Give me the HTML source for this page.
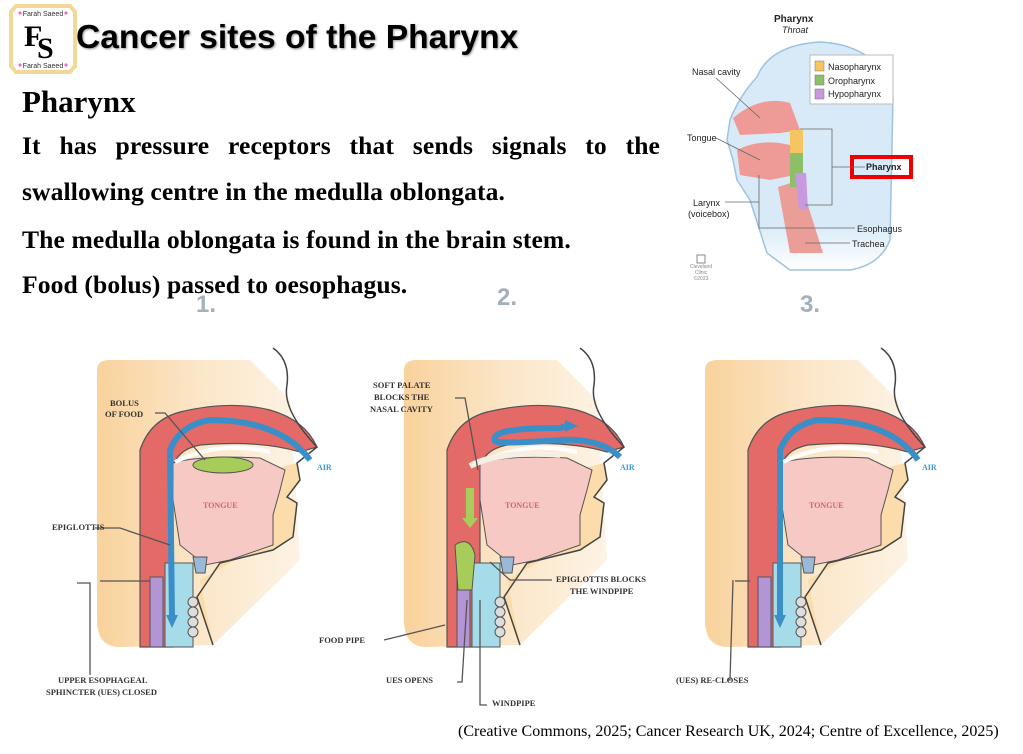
<!DOCTYPE html>
<html><head><meta charset="utf-8"><style>
html,body{margin:0;padding:0;background:#fff;}
body{width:1023px;height:754px;position:relative;overflow:hidden;font-family:"Liberation Serif",serif;}
.t{position:absolute;white-space:nowrap;}
.title{left:76px;top:19px;font-family:"Liberation Sans",sans-serif;font-weight:bold;font-size:33.6px;color:#000;text-shadow:1px 1px 2px #999;}
.h{left:22px;top:84px;font-weight:bold;font-size:31px;}
.p{left:22px;font-weight:bold;font-size:25.6px;letter-spacing:0.1px;}
.j{width:638px;text-align:justify;text-align-last:justify;}
.cit{left:458px;top:723px;font-size:16px;}
</style></head><body>
<svg width="1023" height="754" style="position:absolute;left:0;top:0">
<defs>
<linearGradient id="bg" x1="0" x2="1" y1="0" y2="0">
<stop offset="0" stop-color="#f9d29c"/><stop offset="0.5" stop-color="#fbe6c8"/><stop offset="1" stop-color="#fdf3e4"/></linearGradient>
<linearGradient id="fd" x1="0" x2="0" y1="0" y2="1">
<stop offset="0.8" stop-color="#d8eaf7"/><stop offset="1" stop-color="#fff"/></linearGradient>
<g id="panel">
<path d="M97,370 Q97,360 110,360 L250,360 L290,400 L300,560 L213,645 L120,647 Q97,647 97,620 Z" fill="url(#bg)"/>
<path d="M213,645 L197,597 L220,563 L273,550 L293,537 L297,503 L287,497 L300,480 L297,463 L270,470 L270,540 L230,563 L200,580 Z" fill="#fbdcaa"/>
<path d="M140,647 L140,450 Q150,420 180,412 Q230,400 270,410 Q305,420 317,447 L300,452 Q260,440 200,445 Q175,450 173,470 L173,647 Z" fill="#e36a66" stroke="#555" stroke-width="1.2"/>
<path d="M173,463 Q200,455 260,458 L285,470 L280,490 L273,515 L273,545 L230,560 L205,565 L180,545 L173,500 Z" fill="#f6c9c4" stroke="#555" stroke-width="1"/>
<path d="M175,462 Q220,440 270,452" fill="none" stroke="#fff" stroke-width="4"/>
<rect x="150" y="577" width="13" height="70" fill="#b395d6" stroke="#555" stroke-width="1"/>
<rect x="165" y="563" width="28" height="84" fill="#a6dcea" stroke="#555" stroke-width="1"/>
<path d="M193,557 L207,557 L205,573 L196,573 Z" fill="#9ab8d8" stroke="#555" stroke-width="1"/>
<g fill="#ddd" stroke="#555" stroke-width="1"><ellipse cx="193" cy="602" rx="5" ry="5"/><ellipse cx="193" cy="612" rx="5" ry="5"/><ellipse cx="193" cy="622" rx="5" ry="5"/><ellipse cx="193" cy="632" rx="5" ry="5"/></g>
<path d="M273,348 Q290,360 287,385 Q282,410 317,447 L297,463 L300,480 L287,497 L297,503 L293,537 L273,550 L220,563 L197,597 L213,645" fill="none" stroke="#444" stroke-width="1.5"/>
</g>
</defs>
<path d="M16,6 L70,6 L75,12 L75,66 L70,72 L16,72 L11,66 L11,12 Z" fill="#fff" stroke="#f2d896" stroke-width="4"/>
<text x="43" y="16" font-family="Liberation Sans" font-size="7" text-anchor="middle" fill="#333">Farah Saeed</text>
<text x="43" y="68" font-family="Liberation Sans" font-size="7" text-anchor="middle" fill="#333">Farah Saeed</text>
<g fill="#f06ad0"><circle cx="20" cy="13" r="1.6"/><circle cx="66" cy="13" r="1.6"/><circle cx="20" cy="65" r="1.6"/><circle cx="66" cy="65" r="1.6"/></g>
<text x="24" y="46" font-family="Liberation Serif" font-weight="bold" font-size="30">F</text>
<text x="37" y="58" font-family="Liberation Serif" font-weight="bold" font-size="30">S</text>
<path d="M757,77 Q770,45 820,42 Q880,45 893,97 L890,240 Q880,265 850,270 L790,270 L767,253 L750,200 L737,180 L733,160 L727,140 L730,120 Q740,95 757,77 Z" fill="url(#fd)" stroke="#9cc3e0" stroke-width="1.5"/>
<path d="M733,118 Q760,95 790,103 L800,130 L780,133 L740,135 Z" fill="#ee9a96"/>
<path d="M737,150 Q760,138 790,145 L795,175 L770,180 L740,175 Z" fill="#ee9a96"/>
<path d="M778,187 L800,180 L823,253 L790,253 Z" fill="#eb9e98"/>
<rect x="790" y="130" width="13" height="23" fill="#f5c561"/>
<rect x="790" y="153" width="13" height="34" fill="#8cbf67"/>
<path d="M795,173 L806,173 L808,210 L799,210 Z" fill="#c799de"/>
<rect x="810" y="55" width="83" height="49" fill="#fff" stroke="#bbb"/>
<rect x="815" y="61" width="9" height="10" fill="#f5c561" stroke="#777" stroke-width=".5"/>
<rect x="815" y="75" width="9" height="10" fill="#8cbf67" stroke="#777" stroke-width=".5"/>
<rect x="815" y="89" width="9" height="10" fill="#c799de" stroke="#777" stroke-width=".5"/>
<g font-family="Liberation Sans" font-size="9" fill="#222">
<text x="828" y="70">Nasopharynx</text><text x="828" y="84">Oropharynx</text><text x="828" y="97">Hypopharynx</text>
<text x="692" y="75">Nasal cavity</text><text x="687" y="141">Tongue</text>
<text x="693" y="206">Larynx</text><text x="688" y="217">(voicebox)</text>
<text x="857" y="232">Esophagus</text><text x="852" y="247">Trachea</text>
<text x="774" y="22" font-weight="bold" font-size="10">Pharynx</text>
<text x="782" y="33" font-style="italic">Throat</text>
<text x="866" y="170" font-weight="bold">Pharynx</text></g>
<rect x="852" y="157" width="59" height="20" fill="none" stroke="#e00" stroke-width="4"/>
<g stroke="#666" fill="none" stroke-width="0.8">
<path d="M716,78 L760,118"/><path d="M716,138 L760,160"/><path d="M725,202 L759,202"/>
<path d="M800,129 L832,129 L832,205 L805,205"/><path d="M832,167 L865,167"/>
<path d="M759,175 L759,228 L855,228"/><path d="M805,243 L850,243"/></g>
<g font-family="Liberation Sans" font-size="5" fill="#888" text-anchor="middle"><text x="701" y="268">Cleveland</text><text x="701" y="274">Clinic</text><text x="701" y="280">©2023</text></g>
<rect x="697" y="255" width="8" height="8" fill="none" stroke="#888"/>
<g font-family="Liberation Sans" font-weight="bold" font-size="24" fill="#a4b0bd"><text x="196" y="312">1.</text><text x="497" y="305">2.</text><text x="800" y="312">3.</text></g>
<use href="#panel"/>
<use href="#panel" transform="translate(307,0)"/>
<use href="#panel" transform="translate(608,0)"/>
<ellipse cx="223" cy="465" rx="30" ry="8" fill="#a7cc5a" stroke="#555"/>
<path d="M310,460 Q280,420 210,420 Q180,425 170,450 L172,620" fill="none" stroke="#3b8fc8" stroke-width="6"/>
<path d="M166,615 L172,628 L178,615 Z" fill="#3b8fc8"/>
<path d="M620,457 Q600,438 560,440 Q490,445 495,440 Q490,428 560,428 L560,428 L570,425" fill="none" stroke="#3b8fc8" stroke-width="6"/>
<path d="M565,420 L578,426 L565,432 Z" fill="#3b8fc8"/>
<path d="M470,466 Q500,450 560,455" fill="none" stroke="#f6efe4" stroke-width="6"/>
<rect x="466" y="488" width="8" height="30" fill="#a7cc5a"/>
<path d="M462,518 L470,528 L478,518 Z" fill="#a7cc5a"/>
<path d="M455,545 Q470,535 475,555 L472,590 L458,590 Z" fill="#a7cc5a" stroke="#555"/>
<path d="M918,460 Q890,420 818,420 Q790,425 780,450 L780,620" fill="none" stroke="#3b8fc8" stroke-width="6"/>
<path d="M774,615 L780,628 L786,615 Z" fill="#3b8fc8"/>
<g stroke="#555" fill="none" stroke-width="1.3">
<path d="M155,413 L165,413 L205,460"/><path d="M95,528 L120,528 L170,545"/>
<path d="M77,583 L90,583 L90,675"/><path d="M100,581 L150,581"/>
<path d="M455,398 L465,398 L478,470"/><path d="M552,580 L510,580 L490,562"/>
<path d="M384,640 L445,625"/><path d="M457,682 L462,682 L467,600"/>
<path d="M487,705 L480,705 L480,600"/>
<path d="M735,581 L750,581"/><path d="M733,580 L730,680 L727,680"/>
</g>
<g font-family="Liberation Serif" font-weight="bold" font-size="8.5" fill="#333">
<text x="110" y="406">BOLUS</text><text x="105" y="417">OF FOOD</text>
<text x="52" y="530">EPIGLOTTIS</text>
<text x="58" y="683">UPPER ESOPHAGEAL</text><text x="46" y="695">SPHINCTER (UES) CLOSED</text>
<text x="373" y="388">SOFT PALATE</text><text x="374" y="400">BLOCKS THE</text><text x="370" y="412">NASAL CAVITY</text>
<text x="556" y="582">EPIGLOTTIS BLOCKS</text><text x="570" y="594">THE WINDPIPE</text>
<text x="319" y="643">FOOD PIPE</text><text x="386" y="683">UES OPENS</text><text x="492" y="706">WINDPIPE</text>
<text x="676" y="683">(UES) RE-CLOSES</text></g>
<g font-family="Liberation Serif" font-weight="bold" font-size="8" fill="#3b9bd5"><text x="317" y="470">AIR</text><text x="620" y="470">AIR</text><text x="922" y="470">AIR</text></g>
<g font-family="Liberation Serif" font-weight="bold" font-size="8" fill="#d9646a"><text x="203" y="508">TONGUE</text><text x="505" y="508">TONGUE</text><text x="809" y="508">TONGUE</text></g>
</svg>
<div class="t title">Cancer sites of the Pharynx</div>
<div class="t h">Pharynx</div>
<div class="t p j" style="top:131px">It has pressure receptors that sends signals to the</div>
<div class="t p" style="top:177px">swallowing centre in the medulla oblongata.</div>
<div class="t p" style="top:225px">The medulla oblongata is found in the brain stem.</div>
<div class="t p" style="top:270px">Food (bolus) passed to oesophagus.</div>
<div class="t cit">(Creative Commons, 2025; Cancer Research UK, 2024; Centre of Excellence, 2025)</div>
</body></html>
